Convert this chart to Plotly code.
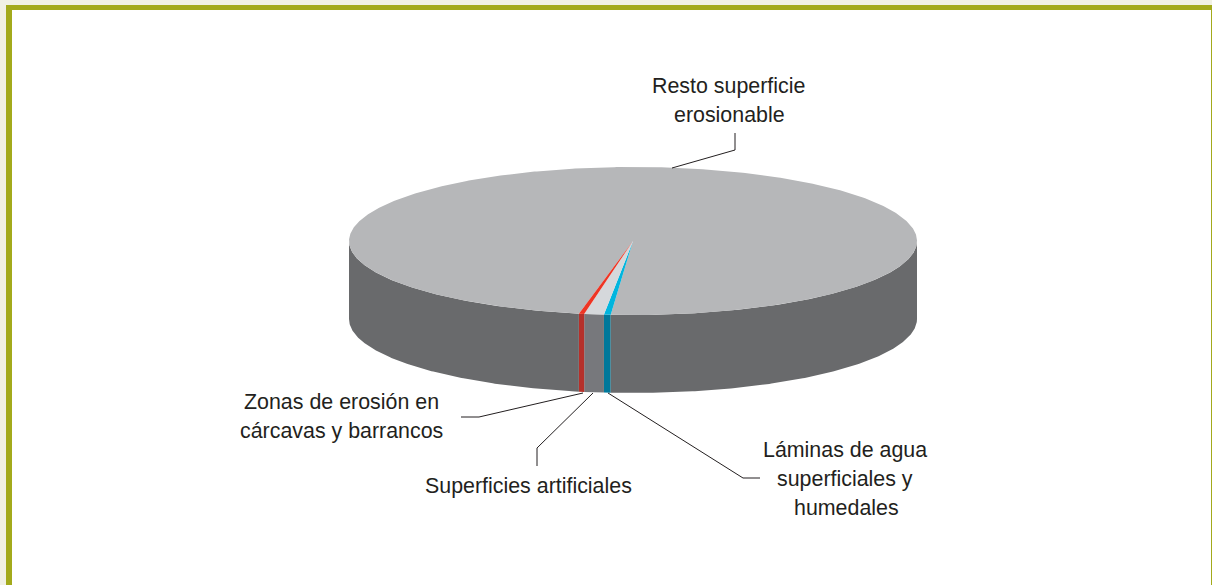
"""
Superficie erosionable: 3D looking pie drawn with filled scatter traces
"""
import numpy as np
import plotly.graph_objects as go

# slice shares in percent, in drawing order from the blue edge
slice_names = [
    "Láminas de agua superficiales y humedales",
    "Superficies artificiales",
    "Zonas de erosión en cárcavas y barrancos",
    "Resto superficie erosionable",
]
slice_shares = [0.38, 1.12, 0.30, 98.20]
top_colors = ["#00B5DE", "#D5D8DB", "#EE3524", "#B6B7B9"]
side_colors = ["#00789A", "#77787C", "#B5302A", "#696A6C"]

# one entry per text line: text, x centre, y centre
label_lines = ["Resto superficie", "erosionable", "Zonas de erosión en", "cárcavas y barrancos",
               "Superficies artificiales", "Láminas de agua", "superficiales y", "humedales"]
label_x = [728.5, 729, 341.5, 341.5, 528, 844.5, 845, 846.5]
label_y = [86, 115, 402, 431, 486, 450, 479, 508]

# leader lines, in the same pixel space as the axes
leader_x = [[672, 735, 735], [583, 479, 461], [593, 537, 537], [608, 743, 760]]
leader_y = [[168, 150, 133], [393, 417, 417], [393, 448, 466], [393, 478, 478]]

WIDTH, HEIGHT = 1212, 585
CX, CY, RX, RY = 633, 241, 284, 74
DEPTH = 78
START_DEG = 94.5  # angle of the blue edge, 90 = front of the disc


def rim(t_deg):
    t = np.radians(t_deg)
    return CX + RX * np.cos(t), CY + RY * np.sin(t)


def top_wedge(t0, t1):
    x, y = rim(np.linspace(t0, t1, max(int(abs(t1 - t0) * 2), 2)))
    return np.r_[CX, x, CX], np.r_[CY, y, CY]


def side_band(t0, t1):
    # only the front half of the rim (0-180 and 360-540 degrees) is visible
    xs, ys = [], []
    for lo, hi in [(0, 180), (360, 540)]:
        a, b = max(t0, lo), min(t1, hi)
        if a >= b:
            continue
        x, y = rim(np.linspace(a, b, max(int((b - a) * 2), 2)))
        xs += list(np.r_[x, x[::-1], x[0]]) + [None]
        ys += list(np.r_[y, y[::-1] + DEPTH, y[0]]) + [None]
    return xs, ys


fig = go.Figure()

edges = START_DEG + np.cumsum([0] + slice_shares) * 3.6
for i, name in enumerate(slice_names):
    x, y = side_band(edges[i], edges[i + 1])
    fig.add_trace(go.Scatter(x=x, y=y, mode="lines", fill="toself", name=name,
                             fillcolor=side_colors[i], line=dict(width=0), hoverinfo="name"))
# the big slice goes first so the thin ones stay on top of it
for i in [3, 0, 1, 2]:
    x, y = top_wedge(edges[i], edges[i + 1])
    fig.add_trace(go.Scatter(x=x, y=y, mode="lines", fill="toself", name=slice_names[i],
                             fillcolor=top_colors[i], line=dict(width=0), hoverinfo="name"))

for lx, ly in zip(leader_x, leader_y):
    fig.add_trace(go.Scatter(x=lx, y=ly, mode="lines", line=dict(color="#231F20", width=1),
                             hoverinfo="skip"))

for text, x, y in zip(label_lines, label_x, label_y):
    fig.add_annotation(x=x, y=y, text=text, showarrow=False, xanchor="center", yanchor="middle",
                       font=dict(family="Liberation Sans", size=21.4, color="#231F20"))

fig.update_xaxes(range=[0, WIDTH], visible=False)
fig.update_yaxes(range=[HEIGHT, 0], visible=False)
fig.update_layout(
    width=WIDTH,
    height=HEIGHT,
    showlegend=False,
    paper_bgcolor="#F1F1E3",
    plot_bgcolor="#F1F1E3",
    margin=dict(l=0, r=0, t=0, b=0),
    shapes=[
        dict(type="rect", x0=6, x1=WIDTH, y0=5, y1=HEIGHT, fillcolor="#A3AA1B", line_width=0, layer="below"),
        dict(type="rect", x0=12, x1=WIDTH - 1, y0=10, y1=HEIGHT, fillcolor="#FFFFFF", line_width=0, layer="below"),
    ],
)

fig.write_html("out.html", config=dict(displayModeBar=False),
               post_script="document.body.style.margin='0';document.body.style.overflow='hidden';")
